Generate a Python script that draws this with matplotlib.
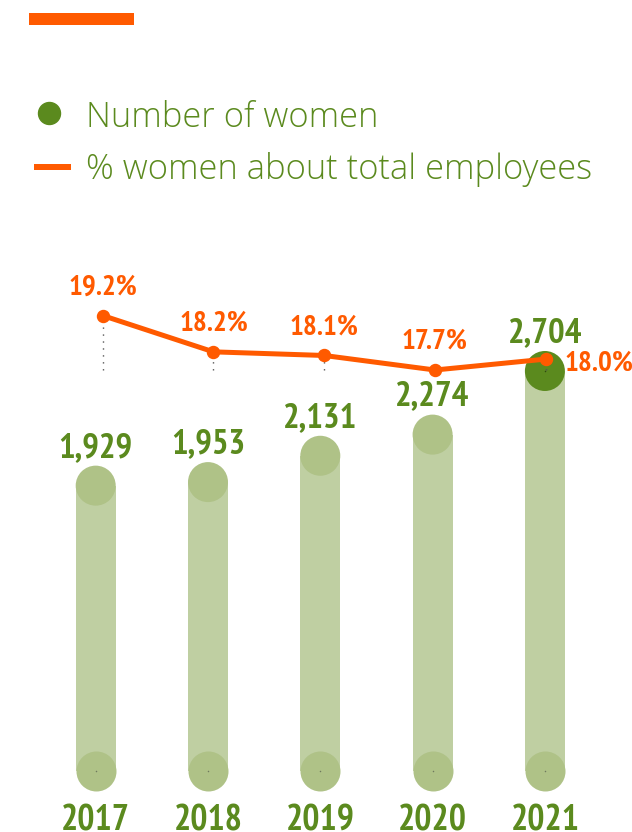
import matplotlib
matplotlib.use("Agg")
import matplotlib.pyplot as plt
from matplotlib import font_manager as fm
from matplotlib.patches import Rectangle
from matplotlib.lines import Line2D

# ---------------- data ----------------
years = ["2017", "2018", "2019", "2020", "2021"]
women = [1929, 1953, 2131, 2274, 2704]
pct_women = [19.2, 18.2, 18.1, 17.7, 18.0]
legend_labels = ["Number of women", "% women about total employees"]

# ---------------- fonts ----------------
available = {f.name for f in fm.fontManager.ttflist}
narrow_pref = ["PT Sans Narrow", "Fira Sans Condensed", "Open Sans Condensed",
               "Roboto Condensed", "Asap Condensed", "Encode Sans Condensed",
               "Archivo Narrow", "Liberation Sans Narrow"]
NARROW = [f for f in narrow_pref if f in available][:1] + ["DejaVu Sans"]
LEGEND_FONT = ["Open Sans", "DejaVu Sans"]

# ---------------- style ----------------
GREEN = "#5B8A1E"
BAR = "#BFCFA2"
CAP = "#AFC287"
ORANGE = "#FF5A00"

W, H = 632, 832
DPI = 100
fig = plt.figure(figsize=(W / DPI, H / DPI), dpi=DPI)
fig.patch.set_facecolor("white")

def fx(px):
    return px / W

def fy(py):  # py measured from top
    return 1 - py / H

def pt(px):
    return px * 72.0 / DPI

# ---------------- bars axes ----------------
x0, dx = 95.7, 112.3                   # pixel position of first bar, spacing
base_from_bottom, k = 61.0, 0.14793    # pixel of value 0 (from bottom), px per unit
ax = fig.add_axes([0, 0, 1, 1])
ax.set_xlim(-x0 / dx, (W - x0) / dx)
ax.set_ylim(-base_from_bottom / k, (H - base_from_bottom) / k)
ax.axis("off")

xs = list(range(len(years)))
bar_w = 40 / dx
ax.bar(xs, women, width=bar_w, color=BAR, zorder=1, linewidth=0)
s_circle = pt(40) ** 2
ax.scatter(xs, [0] * len(xs), s=s_circle, color=CAP, zorder=2, linewidths=0)
cap_colors = [CAP] * (len(xs) - 1) + [GREEN]
ax.scatter(xs, women, s=s_circle, color=cap_colors, zorder=2, linewidths=0)
# tiny centre dots
ax.scatter(xs, [0] * len(xs), s=1.2, color="#6f7a5e", zorder=3, linewidths=0)
ax.scatter(xs[-1:], women[-1:], s=1.2, color="#2f4a10", zorder=3, linewidths=0)

for x, v in zip(xs, women):
    ax.annotate(f"{v:,}", (x, v), xytext=(0, pt(29)), textcoords="offset points",
                ha="center", va="baseline", color=GREEN, fontsize=pt(35),
                fontweight="bold", family=NARROW, zorder=5)

year_baseline = 830.5
for x, y in zip(xs, years):
    ax.annotate(y, (x, 0), xytext=(0, -pt(year_baseline - (H - base_from_bottom))),
                textcoords="offset points", ha="center", va="baseline",
                color=GREEN, fontsize=pt(36), fontweight="bold", family=NARROW,
                annotation_clip=False)

# ---------------- line axes ----------------
lx0, ldx = 102.7, 110.75
ref_val, ref_py, kp = min(pct_women), 370.0, 36.3
ax2 = fig.add_axes([0, 0, 1, 1], facecolor="none")
ax2.set_xlim(-lx0 / ldx, (W - lx0) / ldx)
ax2.set_ylim(ref_val - (H - ref_py) / kp, ref_val + ref_py / kp)
ax2.axis("off")

ax2.vlines(xs, [min(pct_women)] * len(xs), pct_women, colors="#555555",
           linestyles=(0, (1, 4)), linewidth=1, zorder=1)
ax2.plot(xs, pct_women, color=ORANGE, lw=pt(5), marker="o", markersize=pt(12),
         solid_capstyle="round", zorder=3)

for i, (x, v) in enumerate(zip(xs, pct_women)):
    if i < len(xs) - 1:
        ax2.annotate(f"{v:.1f}%", (x, v), xytext=(0, pt(21)), textcoords="offset points",
                     ha="center", va="baseline", color=ORANGE, fontsize=pt(29),
                     fontweight="bold", family=NARROW)
    else:
        ax2.annotate(f"{v:.1f}%", (x, v), xytext=(pt(19), -pt(11)), textcoords="offset points",
                     ha="left", va="baseline", color=ORANGE, fontsize=pt(29),
                     fontweight="bold", family=NARROW)

# ---------------- header & legend ----------------
fig.patches.append(Rectangle((fx(29), fy(25)), fx(134) - fx(29), fy(13) - fy(25),
                             transform=fig.transFigure, color=ORANGE, linewidth=0))

fig.add_artist(Line2D([fx(49)], [fy(112.5)], marker="o", markersize=pt(22),
                      color=GREEN, linestyle="none", transform=fig.transFigure))
fig.add_artist(Line2D([fx(34), fx(70.5)], [fy(167.3), fy(167.3)], lw=pt(6),
                      color=ORANGE, solid_capstyle="butt", transform=fig.transFigure))

fig.text(fx(86), fy(126.7), legend_labels[0], ha="left", va="baseline",
         color=GREEN, fontsize=pt(34.5), fontweight="light", family=LEGEND_FONT)
fig.text(fx(86), fy(179), legend_labels[1], ha="left", va="baseline",
         color=GREEN, fontsize=pt(34.5), fontweight="light", family=LEGEND_FONT)

fig.savefig("out.png", dpi=DPI, facecolor="white")
